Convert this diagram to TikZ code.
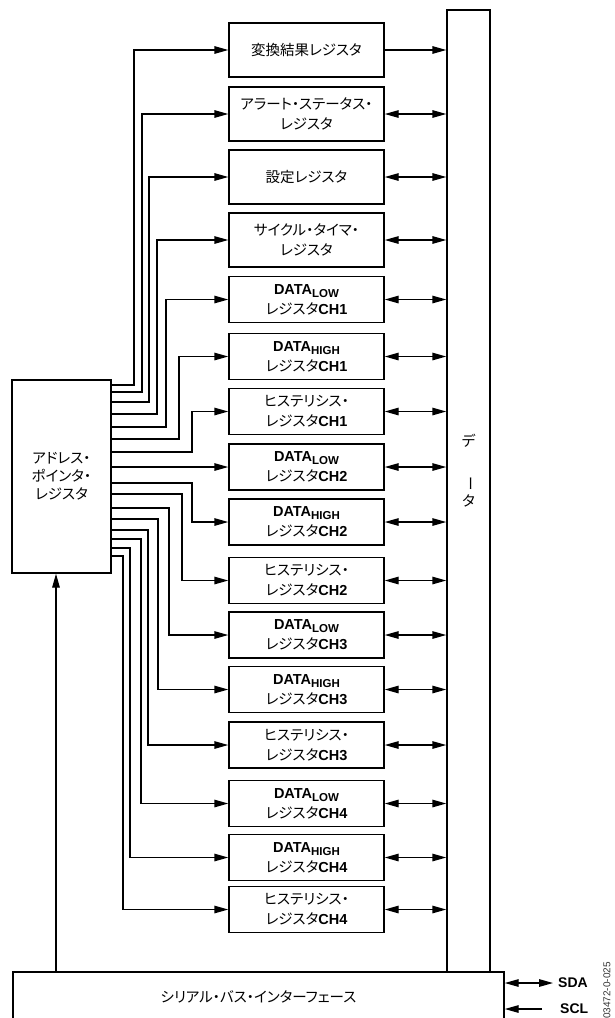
\documentclass[tikz,border=0pt]{standalone}
\usepackage{fontspec}
\setmainfont{Noto Sans CJK JP}[RawFeature=+palt]
\newfontfamily\latfont{Liberation Sans}
\usepackage{graphicx}
\usetikzlibrary{arrows.meta}
\tikzset{>={Triangle[length=14pt,width=7.5pt]}}
\newcommand{\regfont}{\fontsize{14.5}{20}\selectfont}
\newcommand{\lat}[1]{{\latfont\bfseries #1}}
\newcommand{\lowsub}[1]{\raisebox{-0.4ex}{\latfont\bfseries\fontsize{11.5}{11.5}\selectfont #1}}
\tikzset{
  regbox/.style={draw, line width=1.4pt, minimum width=155, minimum height=46,
    align=center, inner sep=0pt, font=\regfont},
  tallbox/.style={regbox, minimum height=54},
  wire/.style={line width=1.4pt},
}

\begin{document}
\begin{tikzpicture}[x=1pt,y=-1pt]
  \useasboundingbox (0,0) rectangle (615,1018);

  %% Registers
  \node[tallbox] (r1) at (306.5,50) {変換結果レジスタ};
  \node[tallbox] (r2) at (306.5,114) {アラート・ステータス・\\レジスタ};
  \node[tallbox] (r3) at (306.5,177) {設定レジスタ};
  \node[tallbox] (r4) at (306.5,240) {サイクル・タイマ・\\レジスタ};
  \node[regbox] (r5) at (306.5,299.5) {\lat{DATA}\lowsub{LOW}\\レジスタ\lat{CH1}};
  \node[regbox] (r6) at (306.5,356.5) {\lat{DATA}\lowsub{HIGH}\\レジスタ\lat{CH1}};
  \node[regbox] (r7) at (306.5,411.5) {ヒステリシス・\\レジスタ\lat{CH1}};
  \node[regbox] (r8) at (306.5,467) {\lat{DATA}\lowsub{LOW}\\レジスタ\lat{CH2}};
  \node[regbox] (r9) at (306.5,522) {\lat{DATA}\lowsub{HIGH}\\レジスタ\lat{CH2}};
  \node[regbox] (r10) at (306.5,580.5) {ヒステリシス・\\レジスタ\lat{CH2}};
  \node[regbox] (r11) at (306.5,635) {\lat{DATA}\lowsub{LOW}\\レジスタ\lat{CH3}};
  \node[regbox] (r12) at (306.5,689.5) {\lat{DATA}\lowsub{HIGH}\\レジスタ\lat{CH3}};
  \node[regbox] (r13) at (306.5,745) {ヒステリシス・\\レジスタ\lat{CH3}};
  \node[regbox] (r14) at (306.5,803.5) {\lat{DATA}\lowsub{LOW}\\レジスタ\lat{CH4}};
  \node[regbox] (r15) at (306.5,857.5) {\lat{DATA}\lowsub{HIGH}\\レジスタ\lat{CH4}};
  \node[regbox] (r16) at (306.5,909.5) {ヒステリシス・\\レジスタ\lat{CH4}};

  %% Data bus
  \node[draw, line width=1.4pt, minimum width=43, minimum height=962, inner sep=0pt] (bus) at (468.5,491) {};
  \node[align=center, font=\fontsize{14.5}{30}\selectfont] (buslabel) at (468.5,471)
    {デ\\\rotatebox{-90}{ー}\\タ};

  %% Address pointer + serial interface
  \node[regbox, minimum width=99, minimum height=193, font=\fontsize{14.5}{18}\selectfont] (ap) at (61.5,476.5)
    {アドレス・\\ポインタ・\\レジスタ};
  \node[regbox, minimum width=491, minimum height=50] (ser) at (258.5,997)
    {シリアル・バス・インターフェース};
  \node[font=\latfont\bfseries\fontsize{14}{14}\selectfont, anchor=west, inner sep=0pt] (sda) at (558,983) {SDA};
  \node[font=\latfont\bfseries\fontsize{14}{14}\selectfont, anchor=west, inner sep=0pt] (scl) at (560,1009) {SCL};
  \node[font=\latfont\fontsize{10}{10}\selectfont, rotate=90, inner sep=0pt, text=black!80] (figid) at (607,990.5) {03472-0-025};

  %% Address pointer fan-out
  \draw[wire,->] (ap.east |- 0,385) -| (134,50) -- (r1.west);
  \draw[wire,->] (ap.east |- 0,392) -| (142,114) -- (r2.west);
  \draw[wire,->] (ap.east |- 0,402) -| (149,177) -- (r3.west);
  \draw[wire,->] (ap.east |- 0,414) -| (157,240) -- (r4.west);
  \draw[wire,->] (ap.east |- 0,427) -| (166,299.5) -- (r5.west);
  \draw[wire,->] (ap.east |- 0,439) -| (179,356.5) -- (r6.west);
  \draw[wire,->] (ap.east |- 0,452) -| (192,411.5) -- (r7.west);
  \draw[wire,->] (ap.east |- r8.west) -- (r8.west);
  \draw[wire,->] (ap.east |- 0,483) -| (192,522) -- (r9.west);
  \draw[wire,->] (ap.east |- 0,494) -| (182,580.5) -- (r10.west);
  \draw[wire,->] (ap.east |- 0,508) -| (169,635) -- (r11.west);
  \draw[wire,->] (ap.east |- 0,519) -| (158,689.5) -- (r12.west);
  \draw[wire,->] (ap.east |- 0,530) -| (148,745) -- (r13.west);
  \draw[wire,->] (ap.east |- 0,539) -| (141,803.5) -- (r14.west);
  \draw[wire,->] (ap.east |- 0,548) -| (130,857.5) -- (r15.west);
  \draw[wire,->] (ap.east |- 0,556) -| (123,909.5) -- (r16.west);

  %% Registers to data bus
  \draw[wire,->] (r1.east) -- (r1.east -| bus.west);
  \draw[wire,<->] (r2.east) -- (r2.east -| bus.west);
  \draw[wire,<->] (r3.east) -- (r3.east -| bus.west);
  \draw[wire,<->] (r4.east) -- (r4.east -| bus.west);
  \draw[wire,<->] (r5.east) -- (r5.east -| bus.west);
  \draw[wire,<->] (r6.east) -- (r6.east -| bus.west);
  \draw[wire,<->] (r7.east) -- (r7.east -| bus.west);
  \draw[wire,<->] (r8.east) -- (r8.east -| bus.west);
  \draw[wire,<->] (r9.east) -- (r9.east -| bus.west);
  \draw[wire,<->] (r10.east) -- (r10.east -| bus.west);
  \draw[wire,<->] (r11.east) -- (r11.east -| bus.west);
  \draw[wire,<->] (r12.east) -- (r12.east -| bus.west);
  \draw[wire,<->] (r13.east) -- (r13.east -| bus.west);
  \draw[wire,<->] (r14.east) -- (r14.east -| bus.west);
  \draw[wire,<->] (r15.east) -- (r15.east -| bus.west);
  \draw[wire,<->] (r16.east) -- (r16.east -| bus.west);

  %% Serial side
  \draw[wire,->] ([xshift=-5.5]ap.south |- ser.north) -- ([xshift=-5.5]ap.south);
  \draw[wire,<->] (ser.east |- sda.west) -- ([xshift=-5]sda.west);
  \draw[wire,->] ([xshift=-18]scl.west) -- (ser.east |- scl.west);
\end{tikzpicture}
\end{document}
